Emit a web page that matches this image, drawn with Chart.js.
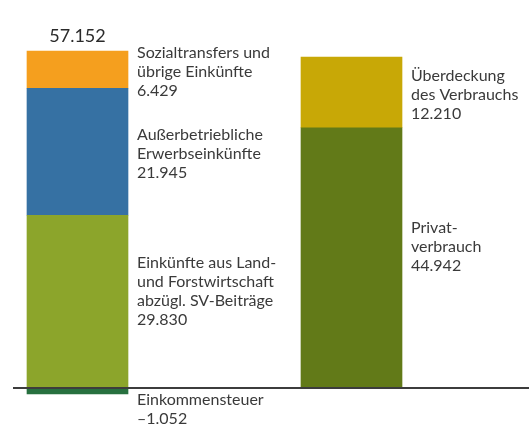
<!DOCTYPE html>
<html lang="de">
<head>
<meta charset="utf-8">
<script src="https://cdn.jsdelivr.net/npm/chart.js@4"></script>
<style>
    html, body { margin: 0; padding: 0; background: #fff; }
    #wrap { width: 529px; height: 425px; position: relative; }
</style>
</head>
<body>
<div id="wrap"><canvas id="chart"></canvas></div>
<script>
// Daten (Euro je Betrieb)
var kategorien = ['Einkommen', 'Verwendung'];
var einkommensteuer = [-1052, null];
var landForst = [29830, null];
var ausserbetrieblich = [21945, null];
var sozialtransfers = [6429, null];
var privatverbrauch = [null, 44942];
var ueberdeckung = [null, 12210];
var summeText = '57.152';

var beschriftungen = [
    ['Einkommensteuer', '–1.052'],
    ['Einkünfte aus Land-', 'und Forstwirtschaft', 'abzügl. SV-Beiträge', '29.830'],
    ['Außerbetriebliche', 'Erwerbseinkünfte', '21.945'],
    ['Sozialtransfers und', 'übrige Einkünfte', '6.429'],
    ['Privat-', 'verbrauch', '44.942'],
    ['Überdeckung', 'des Verbrauchs', '12.210']
];

var FONT = 'Lato, "Noto Sans", sans-serif';
var TEXT = '#3a3a3a';
var ZEILE = 19;

// Beschriftungen rechts neben den Segmenten
var segmentLabels = {
    id: 'segmentLabels',
    afterDatasetsDraw: function (chart) {
        var ctx = chart.ctx;
        var y = chart.scales.y;
        ctx.save();

        // Nulllinie
        var y0 = Math.round(y.getPixelForValue(0));
        ctx.strokeStyle = '#3c3c3c';
        ctx.lineWidth = 2;
        ctx.beginPath();
        ctx.moveTo(13, y0);
        ctx.lineTo(chart.width, y0);
        ctx.stroke();

        ctx.fillStyle = TEXT;
        ctx.font = '16px ' + FONT;
        ctx.textAlign = 'left';
        ctx.textBaseline = 'middle';

        chart.data.datasets.forEach(function (ds, i) {
            var meta = chart.getDatasetMeta(i);
            var idx = ds.data[0] != null ? 0 : 1;
            var bar = meta.data[idx];
            var lines = beschriftungen[i];
            var x = bar.x + bar.width / 2 + 9;
            var top = Math.min(bar.y, bar.base);
            var bot = Math.max(bar.y, bar.base);
            var start;
            if (ds.data[idx] < 0) {
                start = bot + 6;
            } else {
                var mitte = (top + bot) / 2 + 2 + (ds.versatz || 0);
                start = mitte - (lines.length - 1) * ZEILE / 2;
            }
            lines.forEach(function (t, k) {
                ctx.fillText(t, x, start + k * ZEILE);
            });
        });

        // Summe über der linken Säule
        var first = chart.getDatasetMeta(3).data[0];
        ctx.font = '18px ' + FONT;
        ctx.textAlign = 'center';
        ctx.fillStyle = '#2a2a2a';
        ctx.fillText(summeText, first.x, first.y - 15);
        ctx.restore();
    }
};

new Chart(document.getElementById('chart'), {
    type: 'bar',
    data: {
        labels: kategorien,
        datasets: [
            { label: 'Einkommensteuer', data: einkommensteuer, backgroundColor: '#27703f' },
            { label: 'Land- und Forstwirtschaft', data: landForst, backgroundColor: '#8ca52b', versatz: -12 },
            { label: 'Außerbetrieblich', data: ausserbetrieblich, backgroundColor: '#3671a3' },
            { label: 'Sozialtransfers', data: sozialtransfers, backgroundColor: '#f59f1e' },
            { label: 'Privatverbrauch', data: privatverbrauch, backgroundColor: '#627a18', versatz: -13 },
            { label: 'Überdeckung', data: ueberdeckung, backgroundColor: '#c8a806' }
        ]
    },
    options: {
        responsive: true,
        maintainAspectRatio: false,
        animation: false,
        layout: { padding: { left: 77.5, right: 177.5, top: 51, bottom: 31 } },
        datasets: { bar: { barThickness: 101, clip: false, borderWidth: 0 } },
        plugins: { legend: { display: false }, tooltip: { enabled: false } },
        scales: {
            x: { stacked: true, offset: false, display: false },
            y: { stacked: true, display: false, min: -1052, max: 58204 }
        }
    },
    plugins: [segmentLabels]
});
</script>
</body>
</html>
